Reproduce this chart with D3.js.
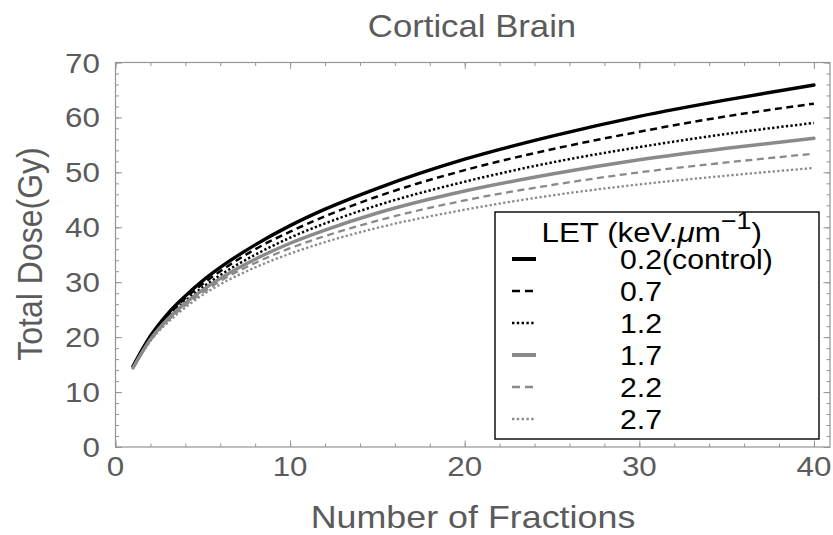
<!DOCTYPE html>
<html>
<head>
<meta charset="utf-8">
<script src="https://cdn.jsdelivr.net/npm/d3@7"></script>
<style>
  body { margin: 0; background: #fff; }
  text { font-family: "Liberation Sans", Arial, sans-serif; }
</style>
</head>
<body>
<svg id="chart" width="833" height="535"></svg>
<script>
// Number of fractions at which the total dose was evaluated
const fractions = [1, 2, 3, 4, 5, 6, 8, 10, 12, 15, 20, 25, 30, 35, 40];

// Total dose (Gy) for each LET value
const dose02 = [14.7, 20.2, 24.3, 27.5, 30.3, 32.7, 36.8, 40.3, 43.3, 47.1, 52.4, 56.6, 60.2, 63.2, 65.9];
const dose07 = [14.6, 20.0, 23.9, 27.1, 29.7, 32.0, 36.0, 39.2, 42.0, 45.6, 50.4, 54.2, 57.4, 60.2, 62.5];
const dose12 = [14.5, 19.8, 23.6, 26.6, 29.1, 31.3, 35.0, 38.1, 40.7, 44.0, 48.3, 51.8, 54.6, 57.0, 59.0];
const dose17 = [14.4, 19.6, 23.3, 26.2, 28.6, 30.7, 34.2, 37.1, 39.5, 42.6, 46.6, 49.7, 52.3, 54.4, 56.2];
const dose22 = [14.35, 19.4, 23.0, 25.8, 28.1, 30.2, 33.5, 36.2, 38.4, 41.2, 44.9, 47.7, 50.0, 51.8, 53.4];
const dose27 = [14.3, 19.3, 22.7, 25.4, 27.7, 29.6, 32.7, 35.2, 37.3, 39.9, 43.2, 45.8, 47.8, 49.4, 50.8];

const letLabels = ["0.2(control)", "0.7", "1.2", "1.7", "2.2", "2.7"];
const xTicks = [0, 10, 20, 30, 40];
const yTicks = [0, 10, 20, 30, 40, 50, 60, 70];

const seriesValues = [dose02, dose07, dose12, dose17, dose22, dose27];

// Line styles per series: colour, width, dash pattern
const styles = [
  { color: "#000000", width: 3.4, dash: null },
  { color: "#000000", width: 2.5, dash: "7,4.5" },
  { color: "#000000", width: 2.5, dash: "2.3,2.3" },
  { color: "#8a8a8a", width: 3.4, dash: null },
  { color: "#8a8a8a", width: 2.3, dash: "7,4.5" },
  { color: "#8a8a8a", width: 2.3, dash: "2.3,2.3" }
];

const svg = d3.select("#chart");
const stretch = 1.12;           // text is drawn slightly wide
const labelColor = "#5b5b5b";
const frameColor = "#959595";

const plotLeft = 115.5, plotRight = 830, plotTop = 62.5, plotBottom = 447;
const x = d3.scaleLinear().domain([0, 40.92]).range([plotLeft, plotRight]);
const y = d3.scaleLinear().domain([0, 70]).range([plotBottom, plotTop]);

// Frame ticks (inward) on all four sides
const minorX = d3.range(0, 41, 2), minorY = d3.range(0, 71, 2);
function tickLayer(axisFn, scale, values, size, transform) {
  const g = svg.append("g").attr("transform", transform)
    .call(axisFn(scale).tickValues(values).tickSize(-size).tickFormat(""));
  g.select(".domain").remove();
  g.selectAll("line").attr("stroke", frameColor).attr("stroke-width", 1);
  return g;
}
tickLayer(d3.axisBottom, x, minorX, 3.5, `translate(0,${plotBottom})`);
tickLayer(d3.axisBottom, x, xTicks, 6.5, `translate(0,${plotBottom})`);
tickLayer(d3.axisTop, x, minorX, 3.5, `translate(0,${plotTop})`);
tickLayer(d3.axisTop, x, xTicks, 6.5, `translate(0,${plotTop})`);
tickLayer(d3.axisLeft, y, minorY, 3.5, `translate(${plotLeft},0)`);
tickLayer(d3.axisLeft, y, yTicks, 6.5, `translate(${plotLeft},0)`);
tickLayer(d3.axisRight, y, minorY, 3.5, `translate(${plotRight},0)`);
tickLayer(d3.axisRight, y, yTicks, 6.5, `translate(${plotRight},0)`);

// Frame
svg.append("rect")
  .attr("x", plotLeft).attr("y", plotTop)
  .attr("width", plotRight - plotLeft).attr("height", plotBottom - plotTop)
  .attr("fill", "none").attr("stroke", frameColor).attr("stroke-width", 1.2);

// Text helper: horizontally widened labels
function wideText(parent, px, py, str, size, anchor, color, extra) {
  return parent.append("text")
    .attr("transform", `translate(${px},${py}) scale(${stretch},1)` + (extra || ""))
    .attr("text-anchor", anchor)
    .attr("font-size", size)
    .attr("fill", color)
    .text(str);
}
xTicks.forEach(v => wideText(svg, x(v), 476, String(v), 28, "middle", labelColor));
yTicks.forEach(v => wideText(svg, 100, y(v) + 10, String(v), 28, "end", labelColor));

// Titles
wideText(svg, 472, 36.5, "Cortical Brain", 31, "middle", labelColor);
wideText(svg, 473, 528, "Number of Fractions", 32, "middle", labelColor);
wideText(svg, 41.5, 254, "Total Dose(Gy)", 32, "middle", labelColor, " rotate(-90)");

// Curves
const line = d3.line()
  .x((d, i) => x(fractions[i]))
  .y(d => y(d))
  .curve(d3.curveMonotoneX);

seriesValues.forEach((vals, i) => {
  const s = styles[i];
  svg.append("path")
    .datum(vals)
    .attr("d", line)
    .attr("fill", "none")
    .attr("stroke", s.color)
    .attr("stroke-width", s.width)
    .attr("stroke-dasharray", s.dash)
    .attr("stroke-linecap", s.dash ? "butt" : "round");
});

// Legend
const lg = svg.append("g");
lg.append("rect")
  .attr("x", 495).attr("y", 212).attr("width", 324).attr("height", 227)
  .attr("fill", "#fff").attr("stroke", "#000").attr("stroke-width", 1.4);

const lt = lg.append("text")
  .attr("transform", `translate(541.5,241.5) scale(${stretch},1)`)
  .attr("font-size", 28).attr("fill", "#000");
lt.append("tspan").text("LET (keV.");
lt.append("tspan").attr("font-style", "italic").text("\u03bc");
lt.append("tspan").text("m");
lt.append("tspan").attr("font-size", 24).attr("dy", -13).text("\u22121");
lt.append("tspan").attr("dy", 13).text(")");

letLabels.forEach((lab, i) => {
  const cy = 259 + i * 32;
  const s = styles[i];
  lg.append("line")
    .attr("x1", 512).attr("x2", 536).attr("y1", cy).attr("y2", cy)
    .attr("stroke", s.color)
    .attr("stroke-width", s.dash ? 2.4 : 4)
    .attr("stroke-dasharray", s.dash ? (s.dash.startsWith("7") ? "8,5" : "2.4,2.4") : null);
  wideText(lg, 620, cy + 10, lab, 27, "start", "#000");
});
</script>
</body>
</html>
